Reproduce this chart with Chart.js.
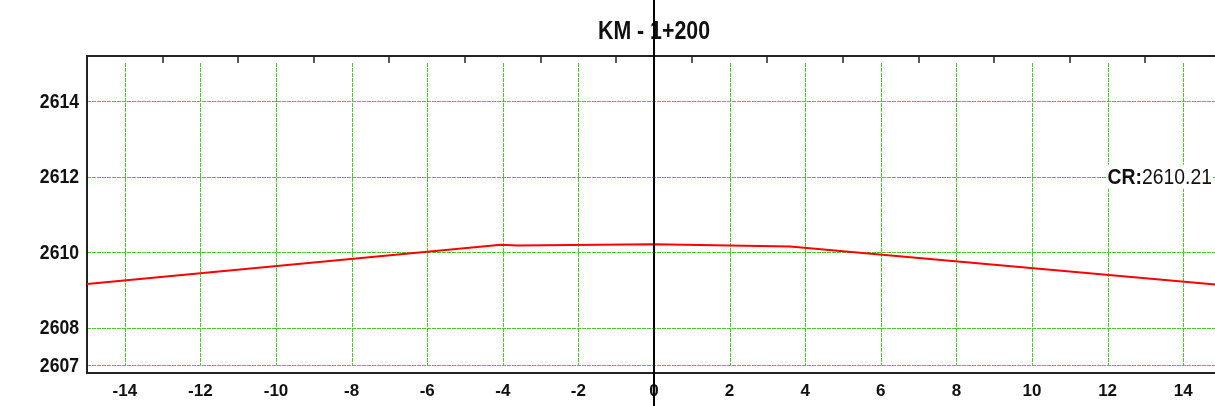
<!DOCTYPE html>
<html>
<head>
<meta charset="utf-8">
<script src="https://cdn.jsdelivr.net/npm/chart.js@4/dist/chart.umd.min.js"></script>
<style>
  html, body { margin: 0; padding: 0; background: #fff; overflow: hidden; }
  #wrap { width: 1240px; height: 406px; position: relative; }
</style>
</head>
<body>
<div id="wrap"><canvas id="section"></canvas></div>
<script>
// cross section KM 1+200
const title = 'KM - 1+200';
const offsets = [-15, -4.05, -3.6, 0, 3.6, 15];
const elevations = [2609.16, 2610.2, 2610.18, 2610.21, 2610.15, 2609.13];
const xTicks = [-14, -12, -10, -8, -6, -4, -2, 0, 2, 4, 6, 8, 10, 12, 14];
const yTicks = [2607, 2608, 2610, 2612, 2614];
const topMarks = [-13, -11, -9, -7, -5, -3, -1, 1, 3, 5, 7, 9, 11, 13];
const crLabel = 'CR:';
const crValue = '2610.21';
const crAt = [12, 2612];

const FONT = '"Liberation Sans", Arial, sans-serif';
const GRID = 'rgb(70, 205, 40)';

// narrow text: squeeze horizontally around the anchor
function narrowText(ctx, text, px, py, sx, align) {
  ctx.save();
  ctx.translate(px, py);
  ctx.scale(sx, 1);
  ctx.textAlign = align;
  ctx.fillText(text, 0, 0);
  ctx.restore();
}

const sectionPlugin = {
  id: 'section',
  beforeDatasetsDraw(chart) {
    const { ctx, chartArea: a, scales: { x, y } } = chart;
    ctx.save();
    ctx.strokeStyle = GRID;
    ctx.lineWidth = 1;
    ctx.setLineDash([4, 1]);
    const yb = Math.round(y.getPixelForValue(yTicks[0])) + 0.5;
    xTicks.forEach(v => {
      const px = Math.round(x.getPixelForValue(v)) + 0.5;
      ctx.beginPath();
      ctx.moveTo(px, a.top + 7);
      ctx.lineTo(px, yb);
      ctx.stroke();
    });
    yTicks.forEach(v => {
      const py = Math.round(y.getPixelForValue(v)) + 0.5;
      ctx.beginPath();
      ctx.moveTo(a.left, py);
      ctx.lineTo(a.right, py);
      ctx.stroke();
    });
    ctx.setLineDash([]);
    // frame
    ctx.strokeStyle = '#222';
    ctx.lineWidth = 2;
    ctx.beginPath();
    ctx.moveTo(a.right, a.top);
    ctx.lineTo(a.left, a.top);
    ctx.lineTo(a.left, a.bottom);
    ctx.lineTo(a.right, a.bottom);
    ctx.stroke();
    ctx.lineWidth = 1.5;
    topMarks.forEach(v => {
      const px = Math.round(x.getPixelForValue(v));
      ctx.beginPath();
      ctx.moveTo(px, a.top);
      ctx.lineTo(px, a.top + 7);
      ctx.stroke();
    });
    // y tick labels
    ctx.fillStyle = '#111';
    ctx.font = 'bold 20px ' + FONT;
    ctx.textBaseline = 'middle';
    yTicks.forEach(v => {
      narrowText(ctx, String(v), a.left - 8, y.getPixelForValue(v) + 1, 0.88, 'right');
    });
    ctx.restore();
  },
  afterDraw(chart) {
    const { ctx, chartArea: a, scales: { x, y } } = chart;
    ctx.save();
    // title
    ctx.fillStyle = '#111';
    ctx.font = 'bold 26px ' + FONT;
    ctx.textBaseline = 'middle';
    narrowText(ctx, title, (a.left + a.right) / 2, 32, 0.82, 'center');
    // CR label
    const sx = 0.88;
    const lx = x.getPixelForValue(crAt[0]);
    const ly = y.getPixelForValue(crAt[1]);
    ctx.font = 'bold 22px ' + FONT;
    const w1 = ctx.measureText(crLabel).width * sx;
    ctx.font = '22px ' + FONT;
    const w2 = ctx.measureText(crValue).width * sx;
    ctx.fillStyle = '#fff';
    ctx.fillRect(lx, ly - 12, w1 + w2 + 1, 24);
    ctx.fillStyle = '#111';
    ctx.font = 'bold 22px ' + FONT;
    narrowText(ctx, crLabel, lx, ly + 1, sx, 'left');
    ctx.font = '22px ' + FONT;
    narrowText(ctx, crValue, lx + w1, ly + 1, sx, 'left');
    // centre line
    const cx = Math.round(x.getPixelForValue(0));
    ctx.strokeStyle = '#000';
    ctx.lineWidth = 2;
    ctx.beginPath();
    ctx.moveTo(cx, 0);
    ctx.lineTo(cx, chart.height);
    ctx.stroke();
    ctx.restore();
  }
};

new Chart(document.getElementById('section'), {
  type: 'line',
  data: {
    datasets: [{
      data: offsets.map((v, i) => ({ x: v, y: elevations[i] })),
      borderColor: 'rgb(255, 0, 0)',
      borderWidth: 2,
      pointRadius: 0,
      tension: 0,
      fill: false
    }]
  },
  options: {
    responsive: true,
    maintainAspectRatio: false,
    animation: false,
    layout: { padding: { top: 56, right: 19, left: 0, bottom: 0 } },
    plugins: { legend: { display: false }, tooltip: { enabled: false } },
    scales: {
      x: {
        type: 'linear',
        min: -15,
        max: 15,
        afterBuildTicks: s => { s.ticks = xTicks.map(v => ({ value: v })); },
        afterFit: s => { s.height = 33; },
        grid: { display: false, drawTicks: false },
        border: { display: false },
        ticks: { color: '#111', padding: 8, maxRotation: 0, autoSkip: false, font: { family: FONT, size: 17, weight: 'bold' } }
      },
      y: {
        min: 2606.8,
        max: 2615.2,
        afterBuildTicks: s => { s.ticks = yTicks.map(v => ({ value: v })); },
        afterFit: s => { s.width = 87; },
        grid: { display: false, drawTicks: false },
        border: { display: false },
        ticks: { display: false }
      }
    }
  },
  plugins: [sectionPlugin]
});
</script>
</body>
</html>
